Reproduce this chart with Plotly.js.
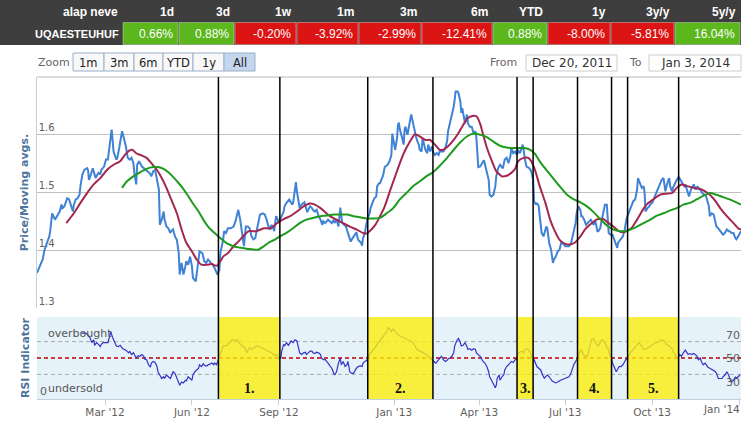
<!DOCTYPE html>
<html><head><meta charset="utf-8">
<script src="https://cdn.plot.ly/plotly-3.0.1.min.js"></script>
<style>html,body{margin:0;padding:0;background:#fff;}#chart{width:745px;height:422px;}</style>
</head><body><div id="chart"></div>
<script>
// ---------- data ----------
const START = '2011-12-20';
const END = '2014-01-03';
const fundName = 'UQAESTEUHUF';
const tableHeaders = ['alap neve','1d','3d','1w','1m','3m','6m','YTD','1y','3y/y','5y/y'];
const returns = [0.66, 0.88, -0.20, -3.92, -2.99, -12.41, 0.88, -8.00, -5.81, 16.04];
const zoomButtons = ['1m','3m','6m','YTD','1y','All'];
const selectedButton = 'All';
const tickDates = ['2012-03-01','2012-06-01','2012-09-01','2013-01-01','2013-04-01','2013-07-01','2013-10-01','2014-01-01'];
const tickLabels = ["Mar '12","Jun '12","Sep '12","Jan '13","Apr '13","Jul '13","Oct '13","Jan '14"];
const priceTicks = [1.3, 1.4, 1.5, 1.6];
const rsiLevels = [70, 50, 30];
const periodStart = ['2012-06-29','2012-12-04','2013-05-11','2013-07-14','2013-09-05'];
const periodEnd   = ['2012-09-02','2013-02-11','2013-05-28','2013-08-19','2013-10-29'];
const periodLabel = ['1.','2.','3.','4.','5.'];

// [day offset from START, value]
const pricePoints = [[0,1.361],[3,1.372],[6,1.384],[8,1.401],[11,1.413],[13,1.424],[14,1.433],[16,1.464],[19,1.453],[21,1.459],[24,1.467],[26,1.479],[27,1.473],[29,1.476],[31,1.485],[32,1.490],[34,1.488],[36,1.476],[38,1.467],[39,1.479],[41,1.488],[43,1.490],[45,1.496],[46,1.511],[48,1.531],[50,1.539],[53,1.542],[54,1.539],[55,1.522],[57,1.531],[59,1.542],[61,1.531],[62,1.525],[65,1.534],[67,1.531],[68,1.539],[71,1.545],[73,1.557],[75,1.557],[77,1.583],[79,1.609],[80,1.591],[81,1.571],[84,1.557],[85,1.560],[87,1.577],[89,1.594],[90,1.606],[92,1.594],[94,1.580],[96,1.560],[98,1.557],[100,1.560],[102,1.551],[103,1.534],[105,1.514],[106,1.548],[108,1.554],[111,1.545],[113,1.542],[116,1.539],[119,1.534],[121,1.528],[123,1.537],[125,1.539],[126,1.525],[127,1.522],[129,1.505],[130,1.444],[132,1.453],[134,1.467],[135,1.453],[137,1.441],[139,1.438],[141,1.430],[142,1.433],[144,1.436],[146,1.424],[148,1.418],[150,1.395],[151,1.358],[153,1.378],[155,1.358],[157,1.372],[158,1.381],[160,1.375],[162,1.389],[164,1.372],[165,1.352],[168,1.346],[169,1.361],[171,1.395],[172,1.398],[175,1.395],[177,1.381],[179,1.378],[181,1.384],[184,1.378],[186,1.375],[188,1.369],[191,1.358],[193,1.366],[194,1.395],[197,1.418],[198,1.433],[200,1.430],[202,1.438],[205,1.438],[208,1.441],[210,1.450],[212,1.467],[213,1.470],[215,1.453],[217,1.430],[219,1.407],[221,1.441],[223,1.441],[225,1.438],[227,1.424],[229,1.419],[231,1.421],[232,1.430],[234,1.447],[236,1.462],[239,1.464],[241,1.462],[243,1.453],[245,1.441],[247,1.436],[248,1.444],[250,1.438],[251,1.433],[253,1.459],[254,1.456],[256,1.447],[257,1.453],[259,1.459],[261,1.467],[262,1.476],[264,1.482],[267,1.488],[268,1.485],[270,1.479],[271,1.482],[273,1.502],[274,1.518],[275,1.502],[277,1.482],[278,1.473],[280,1.479],[282,1.482],[283,1.483],[284,1.477],[286,1.466],[287,1.470],[289,1.476],[291,1.473],[292,1.470],[294,1.467],[296,1.470],[298,1.459],[300,1.453],[302,1.444],[303,1.450],[305,1.447],[307,1.450],[308,1.453],[310,1.450],[312,1.447],[314,1.453],[315,1.447],[317,1.453],[319,1.441],[321,1.474],[322,1.464],[323,1.447],[325,1.444],[327,1.441],[329,1.430],[331,1.421],[332,1.415],[334,1.421],[336,1.427],[338,1.431],[339,1.424],[340,1.418],[343,1.413],[344,1.408],[345,1.421],[347,1.430],[348,1.441],[350,1.456],[352,1.464],[353,1.473],[355,1.482],[357,1.490],[359,1.493],[360,1.511],[362,1.516],[363,1.516],[365,1.525],[366,1.528],[368,1.544],[370,1.546],[371,1.548],[373,1.554],[375,1.565],[376,1.602],[378,1.586],[379,1.574],[381,1.594],[382,1.617],[383,1.621],[384,1.609],[386,1.597],[388,1.583],[389,1.609],[390,1.614],[392,1.600],[393,1.609],[395,1.623],[396,1.635],[398,1.620],[400,1.600],[401,1.597],[402,1.591],[404,1.583],[405,1.574],[407,1.571],[408,1.594],[410,1.583],[411,1.574],[413,1.568],[414,1.583],[416,1.571],[418,1.580],[419,1.571],[421,1.565],[423,1.568],[425,1.565],[426,1.571],[428,1.571],[430,1.571],[432,1.577],[434,1.589],[435,1.606],[437,1.620],[439,1.638],[441,1.649],[442,1.661],[443,1.675],[445,1.675],[446,1.672],[448,1.658],[449,1.638],[450,1.646],[452,1.632],[453,1.620],[455,1.635],[456,1.620],[458,1.614],[460,1.614],[462,1.603],[464,1.606],[465,1.594],[466,1.563],[467,1.544],[469,1.545],[472,1.554],[473,1.556],[475,1.542],[478,1.522],[479,1.496],[481,1.493],[483,1.496],[485,1.511],[486,1.528],[488,1.542],[490,1.548],[492,1.545],[493,1.542],[495,1.557],[497,1.560],[499,1.551],[501,1.563],[502,1.577],[504,1.568],[506,1.571],[508,1.565],[509,1.574],[511,1.568],[513,1.577],[514,1.583],[515,1.574],[516,1.560],[518,1.545],[521,1.542],[523,1.537],[525,1.522],[526,1.485],[528,1.479],[529,1.482],[531,1.476],[532,1.459],[534,1.430],[536,1.424],[538,1.438],[539,1.441],[540,1.438],[542,1.413],[544,1.401],[546,1.378],[547,1.384],[549,1.389],[551,1.398],[553,1.401],[555,1.415],[556,1.413],[558,1.407],[559,1.407],[561,1.407],[563,1.407],[565,1.411],[566,1.418],[568,1.430],[570,1.447],[571,1.464],[573,1.476],[575,1.470],[576,1.459],[577,1.459],[579,1.453],[581,1.444],[583,1.447],[584,1.450],[586,1.453],[588,1.447],[589,1.444],[591,1.450],[593,1.433],[594,1.433],[596,1.438],[597,1.447],[599,1.464],[600,1.473],[601,1.479],[603,1.479],[604,1.456],[605,1.430],[607,1.427],[609,1.427],[611,1.418],[612,1.413],[614,1.404],[615,1.413],[617,1.418],[619,1.421],[620,1.424],[622,1.436],[624,1.456],[626,1.464],[628,1.473],[629,1.479],[631,1.485],[633,1.488],[635,1.505],[636,1.525],[638,1.516],[640,1.508],[642,1.511],[643,1.499],[644,1.467],[646,1.473],[648,1.476],[649,1.479],[651,1.482],[652,1.486],[654,1.493],[656,1.502],[657,1.505],[659,1.511],[661,1.522],[663,1.525],[664,1.516],[665,1.502],[667,1.516],[669,1.525],[670,1.511],[672,1.502],[673,1.508],[675,1.516],[677,1.522],[679,1.527],[681,1.522],[683,1.516],[685,1.511],[686,1.514],[688,1.502],[690,1.493],[692,1.505],[693,1.508],[695,1.514],[697,1.505],[699,1.511],[701,1.505],[702,1.505],[704,1.499],[706,1.496],[708,1.494],[709,1.488],[711,1.476],[712,1.459],[714,1.464],[716,1.462],[718,1.450],[719,1.441],[721,1.438],[723,1.433],[725,1.430],[726,1.427],[728,1.430],[730,1.436],[732,1.433],[733,1.433],[735,1.430],[737,1.430],[739,1.421],[740,1.419],[742,1.424],[744,1.430],[745,1.433]];

const maShortPoints = [[31,1.447],[39,1.464],[46,1.482],[53,1.499],[60,1.514],[67,1.525],[74,1.539],[81,1.548],[88,1.554],[93,1.565],[98,1.573],[101,1.574],[105,1.568],[111,1.564],[116,1.560],[121,1.551],[127,1.539],[132,1.525],[137,1.508],[142,1.488],[148,1.464],[153,1.436],[158,1.413],[164,1.398],[169,1.384],[174,1.375],[180,1.375],[185,1.376],[190,1.373],[194,1.381],[197,1.389],[202,1.395],[208,1.407],[213,1.415],[218,1.424],[224,1.433],[232,1.433],[240,1.438],[247,1.438],[254,1.447],[261,1.454],[268,1.459],[275,1.467],[282,1.476],[289,1.481],[294,1.479],[300,1.473],[305,1.466],[310,1.459],[317,1.453],[324,1.447],[331,1.441],[338,1.436],[345,1.430],[349,1.429],[352,1.433],[358,1.444],[363,1.459],[368,1.476],[374,1.505],[379,1.528],[384,1.551],[389,1.571],[395,1.589],[400,1.601],[405,1.597],[411,1.591],[416,1.591],[421,1.583],[426,1.574],[430,1.574],[435,1.580],[441,1.591],[446,1.603],[451,1.617],[456,1.629],[462,1.633],[465,1.632],[469,1.619],[472,1.601],[476,1.578],[481,1.556],[486,1.537],[492,1.528],[497,1.529],[502,1.534],[506,1.541],[509,1.554],[515,1.560],[520,1.560],[523,1.554],[527,1.539],[532,1.511],[538,1.482],[543,1.453],[548,1.433],[553,1.418],[559,1.411],[564,1.410],[569,1.413],[575,1.424],[580,1.436],[585,1.444],[592,1.453],[599,1.454],[605,1.447],[610,1.441],[615,1.434],[620,1.431],[624,1.433],[629,1.438],[635,1.453],[640,1.467],[645,1.479],[652,1.488],[659,1.496],[666,1.498],[672,1.499],[677,1.508],[682,1.514],[688,1.511],[695,1.508],[702,1.506],[707,1.502],[712,1.496],[718,1.485],[723,1.473],[730,1.459],[737,1.447],[742,1.438],[745,1.436]];

const maLongPoints = [[90,1.508],[95,1.519],[102,1.528],[109,1.535],[116,1.541],[123,1.544],[128,1.544],[134,1.541],[139,1.535],[144,1.527],[150,1.516],[155,1.506],[160,1.494],[165,1.481],[171,1.467],[176,1.453],[181,1.441],[187,1.431],[192,1.424],[197,1.417],[202,1.411],[208,1.407],[213,1.405],[218,1.404],[224,1.402],[231,1.401],[234,1.401],[240,1.407],[245,1.413],[250,1.417],[257,1.424],[264,1.430],[271,1.438],[278,1.447],[285,1.453],[292,1.456],[300,1.459],[307,1.460],[314,1.462],[321,1.462],[328,1.462],[335,1.459],[342,1.457],[349,1.455],[356,1.455],[363,1.456],[370,1.464],[377,1.473],[384,1.488],[391,1.499],[398,1.511],[405,1.519],[412,1.528],[419,1.535],[426,1.546],[434,1.560],[441,1.574],[448,1.587],[455,1.597],[462,1.602],[469,1.600],[476,1.596],[483,1.588],[490,1.581],[497,1.578],[504,1.577],[511,1.577],[516,1.577],[522,1.574],[527,1.567],[532,1.554],[539,1.539],[546,1.525],[553,1.511],[561,1.496],[568,1.488],[575,1.483],[582,1.476],[589,1.466],[596,1.454],[603,1.443],[610,1.436],[617,1.433],[622,1.433],[628,1.436],[635,1.441],[642,1.447],[649,1.453],[656,1.460],[663,1.464],[670,1.469],[677,1.473],[684,1.479],[691,1.482],[698,1.488],[705,1.494],[712,1.499],[719,1.496],[726,1.492],[733,1.488],[740,1.483],[745,1.479]];

const rsiPoints = [[47,80.4],[51,80.4],[53,79.2],[56,75.0],[58,68.8],[60,72.1],[61,65.4],[63,68.8],[65,66.7],[67,63.8],[68,66.7],[70,68.8],[73,68.8],[75,68.8],[77,77.1],[78,82.1],[80,75.0],[82,68.8],[84,64.6],[86,63.8],[88,65.4],[90,62.5],[91,61.3],[94,59.6],[97,56.3],[98,58.3],[100,54.2],[102,56.3],[104,52.1],[105,50.0],[107,52.9],[109,52.1],[111,54.2],[113,52.1],[114,48.8],[116,47.9],[118,41.7],[120,38.8],[121,43.8],[123,45.8],[125,44.6],[127,39.6],[128,33.3],[130,29.2],[132,25.0],[134,27.1],[135,25.0],[137,29.2],[139,27.1],[141,25.0],[142,27.1],[144,33.3],[146,31.3],[148,25.0],[150,19.6],[151,16.7],[153,20.8],[155,19.6],[157,22.9],[158,22.1],[160,27.1],[162,25.0],[164,22.9],[165,29.2],[167,33.3],[169,35.4],[171,37.5],[172,41.7],[174,39.6],[176,42.9],[178,40.4],[180,40.4],[181,41.7],[183,42.5],[185,43.8],[187,41.7],[188,43.8],[190,41.7],[192,48.8],[194,54.2],[197,64.6],[201,65.4],[204,68.8],[207,72.9],[210,70.8],[212,72.1],[215,66.7],[218,64.6],[220,62.5],[222,56.3],[225,62.5],[227,60.4],[231,63.8],[234,64.6],[238,62.5],[241,60.4],[245,58.3],[248,56.3],[252,52.9],[254,54.2],[256,48.8],[258,50.0],[259,58.3],[261,66.7],[262,64.6],[264,68.8],[266,65.4],[268,70.0],[269,70.8],[271,68.8],[273,72.1],[275,70.8],[277,62.5],[278,56.3],[280,54.2],[282,56.3],[284,57.1],[285,54.2],[287,56.3],[289,58.3],[291,58.3],[292,56.3],[294,55.4],[296,57.1],[298,56.3],[300,54.2],[301,50.0],[303,47.9],[305,47.9],[307,45.8],[308,43.8],[310,40.4],[312,37.5],[314,31.3],[315,29.2],[317,33.3],[319,43.8],[321,50.0],[322,41.7],[324,45.8],[326,39.6],[328,41.7],[329,45.8],[331,33.3],[333,31.3],[335,31.3],[336,33.3],[338,37.5],[340,39.6],[342,40.4],[344,39.6],[345,43.8],[347,45.8],[349,47.1],[352,54.2],[356,60.4],[359,64.6],[363,70.8],[367,77.1],[370,82.1],[372,87.5],[374,84.6],[375,82.1],[377,85.4],[381,79.2],[384,77.1],[388,75.0],[391,72.9],[395,70.8],[398,68.8],[402,60.4],[405,58.3],[409,56.3],[412,54.2],[416,50.0],[419,45.8],[420,45.8],[422,43.8],[425,47.9],[426,50.0],[428,52.1],[430,47.9],[432,45.8],[434,47.1],[435,48.8],[437,50.0],[439,52.1],[441,56.3],[442,64.6],[444,70.8],[446,73.8],[448,68.8],[449,64.6],[451,65.4],[453,68.8],[455,63.8],[456,60.4],[458,61.3],[460,59.6],[462,61.3],[464,60.4],[465,56.3],[467,54.2],[469,52.1],[471,47.9],[472,45.8],[474,43.8],[476,39.6],[478,33.3],[479,27.1],[481,22.9],[483,18.8],[485,13.8],[486,16.7],[487,25.0],[489,29.2],[490,22.9],[492,27.1],[494,29.2],[495,35.4],[497,39.6],[499,41.7],[501,43.8],[502,45.8],[504,44.6],[506,47.9],[508,48.8],[509,56.3],[511,57.1],[513,58.3],[515,56.3],[516,59.6],[518,61.3],[520,60.4],[522,57.1],[524,50.0],[526,47.9],[528,41.7],[529,39.6],[531,37.5],[533,35.4],[535,29.2],[537,25.0],[538,27.1],[540,29.2],[542,27.1],[544,22.9],[545,22.1],[547,20.8],[549,19.6],[551,20.8],[552,21.7],[554,22.9],[556,23.8],[558,25.0],[559,25.0],[561,26.3],[563,27.1],[565,31.3],[566,35.4],[568,41.7],[570,45.8],[572,48.8],[574,56.3],[576,60.4],[578,54.2],[580,52.1],[582,52.1],[583,54.2],[585,64.6],[587,72.9],[589,73.8],[590,70.8],[592,66.7],[594,64.6],[596,69.6],[598,72.9],[599,70.8],[601,68.8],[603,62.5],[605,60.4],[606,54.2],[608,50.0],[609,43.8],[611,37.5],[613,33.3],[614,35.4],[616,39.6],[618,39.6],[620,41.7],[622,45.8],[623,47.9],[625,50.0],[628,56.3],[631,60.4],[635,66.7],[637,68.8],[640,64.6],[642,60.4],[645,61.3],[649,64.6],[652,66.7],[656,68.8],[659,70.8],[661,72.1],[664,70.8],[666,66.7],[669,64.6],[672,61.3],[674,56.3],[676,52.1],[678,48.8],[680,54.2],[682,52.1],[684,56.3],[686,59.6],[688,56.3],[689,54.2],[691,55.4],[693,54.2],[695,55.4],[696,54.2],[698,52.9],[700,47.9],[702,50.0],[703,45.8],[705,41.7],[707,43.8],[709,39.6],[710,38.8],[712,37.5],[714,36.3],[716,35.4],[718,33.3],[719,31.3],[721,25.0],[723,25.0],[725,25.0],[726,27.1],[728,29.2],[730,33.3],[732,29.2],[733,25.0],[735,20.8],[737,22.9],[739,27.1],[740,25.0],[742,27.1],[744,29.2]];

// ---------- helpers ----------
const W = 745, H = 422;
const px = x => x / W;
const py = y => 1 - y / H;
const DAY = 86400000;
const t0 = Date.parse(START + 'T00:00:00Z');
const toDate = d => new Date(t0 + d * DAY).toISOString().slice(0, 10);
const MON = ['Jan','Feb','Mar','Apr','May','Jun','Jul','Aug','Sep','Oct','Nov','Dec'];
const fmtDate = s => { const d = new Date(s + 'T00:00:00Z'); return MON[d.getUTCMonth()] + ' ' + d.getUTCDate() + ', ' + d.getUTCFullYear(); };
const midDate = (a, b) => { const m = (Date.parse(a + 'T00:00:00Z') + Date.parse(b + 'T00:00:00Z')) / 2; const iso = new Date(m).toISOString(); return iso.slice(0,10) + ' ' + iso.slice(11,16); };

const CHART_FONT = 'DejaVu Sans, Verdana, sans-serif';
const TABLE_FONT = 'Liberation Sans, Arial, sans-serif';

// ---------- traces ----------
const traces = [
  {type:'scatter', mode:'lines', x: pricePoints.map(p => toDate(p[0])), y: pricePoints.map(p => p[1]),
   xaxis:'x', yaxis:'y', line:{color:'#3f82d6', width:2}, hoverinfo:'skip'},
  {type:'scatter', mode:'lines', x: maShortPoints.map(p => toDate(p[0])), y: maShortPoints.map(p => p[1]),
   xaxis:'x', yaxis:'y', line:{color:'#a3284f', width:2, shape:'spline', smoothing:0.6}, hoverinfo:'skip'},
  {type:'scatter', mode:'lines', x: maLongPoints.map(p => toDate(p[0])), y: maLongPoints.map(p => p[1]),
   xaxis:'x', yaxis:'y', line:{color:'#1e9b1e', width:2, shape:'spline', smoothing:0.6}, hoverinfo:'skip'},
  {type:'scatter', mode:'lines', x: rsiPoints.map(p => toDate(p[0])), y: rsiPoints.map(p => p[1]),
   xaxis:'x', yaxis:'y2', line:{color:'#3333c8', width:1.2}, hoverinfo:'skip'}
];

// ---------- shapes & annotations ----------
const shapes = [];
const annotations = [];

// RSI panel background
shapes.push({type:'rect', xref:'x domain', yref:'y2 domain', x0:0, x1:1, y0:0, y1:1,
  fillcolor:'#e6f2fa', line:{width:0}, layer:'below'});
// RSI level lines
rsiLevels.forEach(v => {
  shapes.push({type:'line', xref:'x domain', yref:'y2', x0:0, x1:1, y0:v, y1:v, layer:'below',
    line:{color: v === 50 ? '#c00000' : '#a8a8a8', width: v === 50 ? 1.4 : 1, dash:'4px,3px'}});
});
// main plot top border
shapes.push({type:'line', xref:'x domain', yref:'y domain', x0:0, x1:1, y0:1, y1:1, line:{color:'#b8b8b8', width:1}});

// signal periods
periodStart.forEach((s, i) => {
  shapes.push({type:'rect', xref:'x', yref:'y2 domain', x0:s, x1:periodEnd[i], y0:0, y1:1,
    fillcolor:'#fcee0c', opacity:0.8, line:{width:0}, layer:'above'});
  annotations.push({xref:'x', yref:'y2', x: midDate(s, periodEnd[i]), y:13, text:'<b>' + periodLabel[i] + '</b>',
    showarrow:false, xanchor:'center', yanchor:'middle', font:{family:'Liberation Serif, Times New Roman, serif', size:14, color:'#111'}});
});
periodStart.concat(periodEnd).forEach(d => {
  shapes.push({type:'line', xref:'x', yref:'paper', x0:d, x1:d, y0:py(399), y1:py(77),
    line:{color:'#000', width:1.5}, layer:'above'});
});

// RSI texts
annotations.push({xref:'paper', yref:'y2', x:px(46), y:70, text:'overbought', showarrow:false, xanchor:'left', yanchor:'bottom',
  font:{family:CHART_FONT, size:11, color:'#555'}});
annotations.push({xref:'paper', yref:'y2', x:px(46), y:0, yshift:2, text:'undersold', showarrow:false, xanchor:'left', yanchor:'bottom',
  font:{family:CHART_FONT, size:11, color:'#555'}});
rsiLevels.forEach(v => {
  annotations.push({xref:'paper', yref:'y2', x:px(742), y:v, yshift: v === 70 ? -2 : 0, text:String(v), showarrow:false,
    xanchor:'right', yanchor: v === 70 ? 'bottom' : (v === 50 ? 'middle' : 'top'),
    font:{family:CHART_FONT, size:11, color:'#606060'}});
});

// header table
const colEdges = [122,178,234,296,358,421,492,547,610,674,740];
shapes.push({type:'rect', xref:'paper', yref:'paper', x0:0, x1:px(741), y0:py(45), y1:py(0),
  fillcolor:'#3e3e3e', line:{width:0}});
annotations.push({xref:'paper', yref:'paper', x:px(120), y:py(11.5), text:'<b>' + tableHeaders[0] + '</b>', showarrow:false,
  xanchor:'right', yanchor:'middle', font:{family:TABLE_FONT, size:12, color:'#fff'}});
annotations.push({xref:'paper', yref:'paper', x:px(121), y:py(34.5), text:'<b>' + fundName + '</b>', showarrow:false,
  xanchor:'right', yanchor:'middle', font:{family:TABLE_FONT, size:11, color:'#fff'}});
returns.forEach((v, i) => {
  const left = colEdges[i] + 1, right = colEdges[i + 1];
  shapes.push({type:'rect', xref:'paper', yref:'paper', x0:px(left), x1:px(right), y0:py(44.5), y1:py(22.5),
    fillcolor: v >= 0 ? '#5cb71d' : '#dc1414', line:{color:'rgba(255,255,255,0.35)', width:1}});
  annotations.push({xref:'paper', yref:'paper', x:px(right - 2), y:py(11.5), text:'<b>' + tableHeaders[i + 1] + '</b>',
    showarrow:false, xanchor:'right', yanchor:'middle', font:{family:TABLE_FONT, size:12, color:'#fff'}});
  annotations.push({xref:'paper', yref:'paper', x:px(right - 3), y:py(34.5), text: v.toFixed(2) + '%',
    showarrow:false, xanchor:'right', yanchor:'middle', font:{family:TABLE_FONT, size:12, color:'#fff'}});
});

// zoom buttons
annotations.push({xref:'paper', yref:'paper', x:px(36), y:py(63), text:'Zoom', showarrow:false, xanchor:'left', yanchor:'middle',
  font:{family:CHART_FONT, size:11, color:'#666'}});
const btnEdges = [73,104,134,163,193,224,255];
zoomButtons.forEach((b, i) => {
  const sel = b === selectedButton;
  shapes.push({type:'rect', xref:'paper', yref:'paper', x0:px(btnEdges[i]), x1:px(btnEdges[i + 1]), y0:py(71), y1:py(53),
    fillcolor: sel ? '#c3d6ee' : '#f8f8f8', line:{color:'#9cb0c8', width:1}});
  annotations.push({xref:'paper', yref:'paper', x:px((btnEdges[i] + btnEdges[i + 1]) / 2), y:py(62.5), text:b, showarrow:false,
    xanchor:'center', yanchor:'middle', font:{family:CHART_FONT, size:11.5, color:'#222'}});
});

// From / To boxes
annotations.push({xref:'paper', yref:'paper', x:px(519), y:py(62.5), text:'From', showarrow:false, xanchor:'right', yanchor:'middle',
  font:{family:CHART_FONT, size:11, color:'#666'}});
annotations.push({xref:'paper', yref:'paper', x:px(644), y:py(62.5), text:'To', showarrow:false, xanchor:'right', yanchor:'middle',
  font:{family:CHART_FONT, size:11, color:'#666'}});
[[526,617,START],[649,741,END]].forEach(([a, b, d]) => {
  shapes.push({type:'rect', xref:'paper', yref:'paper', x0:px(a), x1:px(b), y0:py(71), y1:py(55),
    fillcolor:'#fff', line:{color:'#cccccc', width:1}});
  annotations.push({xref:'paper', yref:'paper', x:px((a + b) / 2), y:py(63), text:fmtDate(d), showarrow:false,
    xanchor:'center', yanchor:'middle', font:{family:CHART_FONT, size:12, color:'#333'}});
});

// x tick labels: the last label is kept inside the figure (right-aligned, as in the reference)
const lastTick = tickLabels.length - 1;
const tickText = tickLabels.map((t, i) => i === lastTick ? '' : t);
annotations.push({xref:'paper', yref:'paper', x:px(742), y:py(409), text:tickLabels[lastTick], showarrow:false,
  xanchor:'right', yanchor:'middle', font:{family:CHART_FONT, size:10.5, color:'#606060'}});

const layout = {
  width: W, height: H,
  margin:{l:0, r:0, t:0, b:0, pad:0},
  paper_bgcolor:'#fff', plot_bgcolor:'#fff',
  showlegend:false,
  font:{family:CHART_FONT, color:'#606060'},
  xaxis:{type:'date', domain:[px(37), px(741)], range:[START, END], anchor:'y2',
    tickvals:tickDates, ticktext:tickText, ticks:'outside', ticklen:5, tickcolor:'#C0D0E0',
    showline:true, linecolor:'#C0D0E0', linewidth:1, showgrid:false, zeroline:false, ticklabelstandoff:-2,
    tickfont:{family:CHART_FONT, size:10.5, color:'#606060'}, fixedrange:true},
  yaxis:{domain:[py(308), py(77)], range:[1.3, 1.7], anchor:'x',
    tickvals:priceTicks, ticktext:priceTicks.map(v => v.toFixed(1)), ticklabelposition:'inside top',
    showgrid:true, gridcolor:'#C0C0C0', gridwidth:1, showline:true, linecolor:'#C0D0E0', linewidth:1.5,
    zeroline:false, ticks:'', tickfont:{family:CHART_FONT, size:10, color:'#606060'},
    title:{text:'<b>Price/Moving avgs.</b>', standoff:8, font:{family:CHART_FONT, size:11, color:'#4d759e'}}, fixedrange:true},
  yaxis2:{domain:[py(399), py(317)], range:[0, 100], anchor:'x',
    tickvals:[0], ticktext:['0'], ticklabelposition:'inside top', showgrid:false, showline:false, zeroline:false, ticks:'',
    tickfont:{family:CHART_FONT, size:11, color:'#606060'},
    title:{text:'<b>RSI Indicator</b>', standoff:8, font:{family:CHART_FONT, size:11, color:'#4d759e'}}, fixedrange:true},
  shapes: shapes,
  annotations: annotations
};

Plotly.newPlot('chart', traces, layout, {staticPlot:true, displayModeBar:false});
</script>
</body></html>
